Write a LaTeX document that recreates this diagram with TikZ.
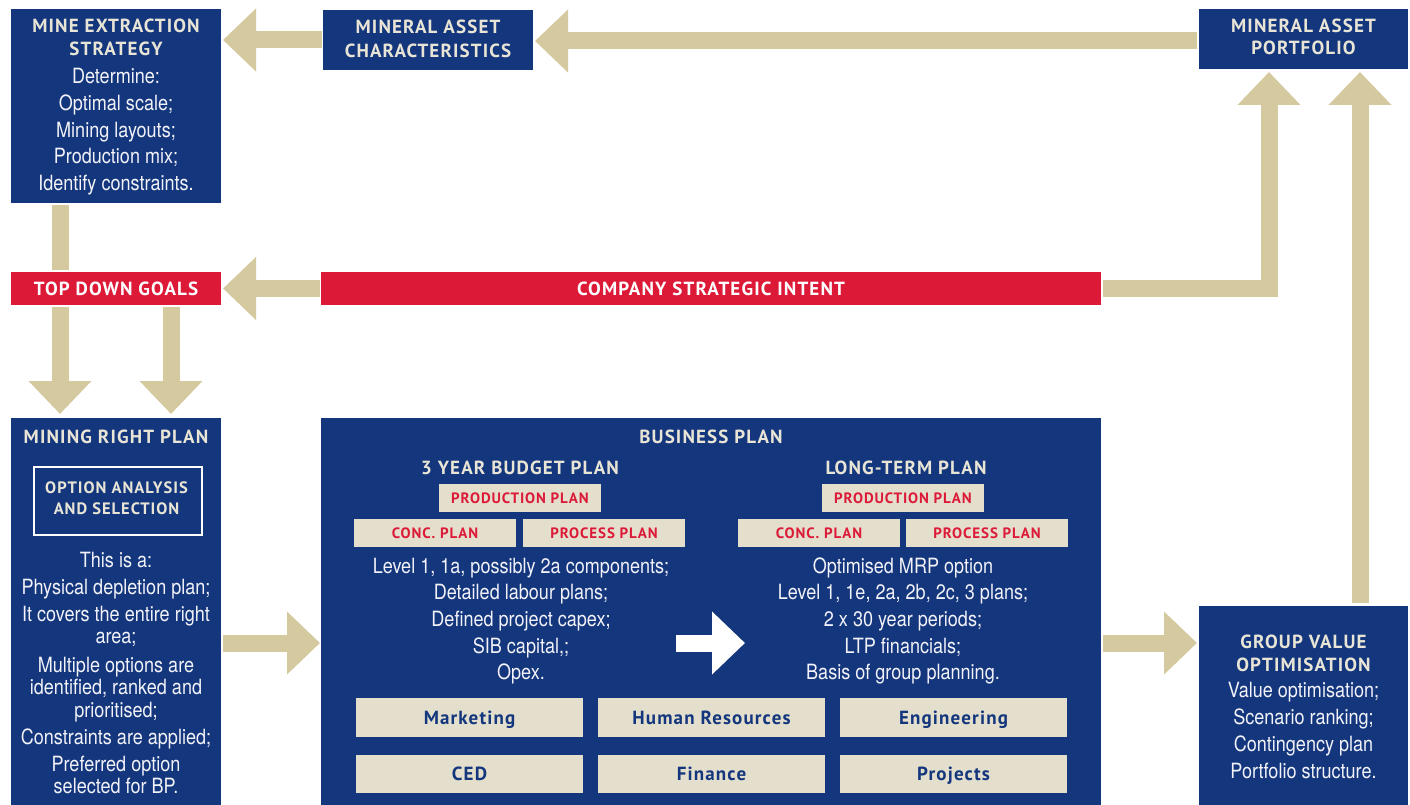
\documentclass[tikz,border=0pt]{standalone}
\usepackage{fontspec}
\setmainfont{TeX Gyre Heros}
\newfontfamily\headfont[LetterSpace=6]{PT Sans}
\newfontfamily\bodyfont[FakeStretch=0.86]{TeX Gyre Heros}
\usetikzlibrary{arrows.meta,calc}

\definecolor{navy}{RGB}{19,54,125}
\definecolor{sand}{RGB}{213,201,160}
\definecolor{alert}{RGB}{220,26,56}
\definecolor{paper}{RGB}{228,223,205}
\definecolor{headtxt}{RGB}{233,229,214}
\definecolor{bodytxt}{RGB}{242,242,248}

\begin{document}
\begin{tikzpicture}[x=1pt,y=-1pt,
  panel/.style={fill=navy,draw=none,inner sep=0pt,outer sep=0pt,anchor=north west},
  redbar/.style={fill=alert,draw=none,inner sep=0pt,outer sep=0pt,anchor=north west,
    font=\headfont\bfseries\fontsize{19}{23}\selectfont,text=white,
    text height=13.3pt,text depth=0pt},
  chip/.style={fill=paper,draw=none,inner sep=0pt,outer sep=0pt,anchor=north west,
    text height=10.8pt,text depth=0pt,
    font=\headfont\bfseries\fontsize{15}{18}\selectfont,text=alert},
  dept/.style={fill=paper,draw=none,inner sep=0pt,outer sep=0pt,anchor=north west,
    minimum width=227pt,minimum height=38pt,
    text height=13.3pt,text depth=0pt,
    font=\headfont\bfseries\fontsize{19}{23}\selectfont,text=navy},
  head/.style={font=\headfont\bfseries\fontsize{19}{23}\selectfont,text=headtxt,anchor=base,inner sep=0pt},
  subhead/.style={font=\headfont\bfseries\fontsize{16.5}{20}\selectfont,text=headtxt,anchor=base,inner sep=0pt},
  body/.style={font=\bodyfont\fontsize{21}{26}\selectfont,text=bodytxt,anchor=base,inner sep=0pt},
  fatline/.style={draw=sand,line width=17pt},
  fat/.style={fatline,-{Triangle[length=33pt,width=61pt]}},
]
\useasboundingbox (0,0) rectangle (1410,805);

% ---------- boxes ----------
\node[panel,minimum width=210pt,minimum height=194pt] (mine) at (11,9) {};
\node[panel,minimum width=210pt,minimum height=60pt] (mac) at (323,10) {};
\node[panel,minimum width=209pt,minimum height=60pt] (port) at (1199,9) {};
\node[redbar,minimum width=210pt,minimum height=33pt] (tdg) at (11,272) {TOP DOWN GOALS};
\node[redbar,minimum width=780pt,minimum height=33pt] (csi) at (321,272) {COMPANY STRATEGIC INTENT};
\node[panel,minimum width=210pt,minimum height=387pt] (mrp) at (11,418) {};
\node[panel,minimum width=780pt,minimum height=387pt] (bp) at (321,418) {};
\node[panel,minimum width=209pt,minimum height=199pt] (gvo) at (1199,606) {};

% ---------- mine extraction strategy ----------
\node[head] at (116,33) {MINE EXTRACTION};
\node[head] at (116,56) {STRATEGY};
\foreach \yy/\lbl in {84/Determine:,111/Optimal scale;,138/Mining layouts;,164/Production mix;,191/Identify constraints.}
  \node[body] at (116,\yy) {\lbl};

% ---------- mineral asset characteristics / portfolio ----------
\node[head] at (428,34) {MINERAL ASSET};
\node[head] at (428,58) {CHARACTERISTICS};
\node[head] at (1303.5,33) {MINERAL ASSET};
\node[head] at (1303.5,55) {PORTFOLIO};

% ---------- mining right plan ----------
\node[head] at (116,443) {MINING RIGHT PLAN};
\node[draw=white,line width=2pt,inner sep=0pt,anchor=north west,
  minimum width=168pt,minimum height=68pt] (opt) at (33,466) {};
\node[subhead] at (116.5,493) {OPTION ANALYSIS};
\node[subhead] at (116.5,514) {AND SELECTION};
\foreach \yy/\lbl in {567/This is a:,594/Physical depletion plan;,621/It covers the entire right,643/area;,
  672/Multiple options are,694/{identified, ranked and},717/prioritised;,744/Constraints are applied;,
  771/Preferred option,793/selected for BP.}
  \node[body] at (116,\yy) {\lbl};

% ---------- business plan ----------
\node[head] at (711,443) {BUSINESS PLAN};
\node[head] at (520,474) {3 YEAR BUDGET PLAN};
\node[head] at (906,474) {LONG-TERM PLAN};

\node[chip,minimum width=162pt,minimum height=28pt] (pp1) at (439,484) {PRODUCTION PLAN};
\node[chip,minimum width=162pt,minimum height=28pt] (cp1) at (354,519) {CONC. PLAN};
\node[chip,minimum width=162pt,minimum height=28pt] (pr1) at (523,519) {PROCESS PLAN};
\node[chip,minimum width=162pt,minimum height=28pt] (pp2) at (822,484) {PRODUCTION PLAN};
\node[chip,minimum width=162pt,minimum height=28pt] (cp2) at (738,519) {CONC. PLAN};
\node[chip,minimum width=162pt,minimum height=28pt] (pr2) at (906,519) {PROCESS PLAN};

\foreach \yy/\lbl in {573/{Level 1, 1a, possibly 2a components;},599/Detailed labour plans;,
  626/Defined project capex;,653/{SIB capital,;},679/Opex.}
  \node[body] at (521,\yy) {\lbl};
\foreach \yy/\lbl in {573/Optimised MRP option,599/{Level 1, 1e, 2a, 2b, 2c, 3 plans;},
  626/2 x 30 year periods;,653/LTP financials;,679/Basis of group planning.}
  \node[body] at (903,\yy) {\lbl};

\node[dept,minimum height=39pt] (mkt) at (356,698) {Marketing};
\node[dept,minimum height=39pt] (hr)  at (598,698) {Human Resources};
\node[dept,minimum height=39pt] (eng) at (840,698) {Engineering};
\node[dept] (ced) at (356,755) {CED};
\node[dept] (fin) at (598,755) {Finance};
\node[dept] (prj) at (840,755) {Projects};

% ---------- group value optimisation ----------
\node[head] at (1303.5,648) {GROUP VALUE};
\node[head] at (1303.5,671) {OPTIMISATION};
\foreach \yy/\lbl in {697/Value optimisation;,724/Scenario ranking;,751/Contingency plan,778/Portfolio structure.}
  \node[body] at (1303.5,\yy) {\lbl};

% ---------- connectors ----------
\coordinate (lvl) at (0,643);
\coordinate (wa) at (676,643);
\coordinate (wb) at (745,643);

\draw[fat] ($(mac.west)+(-1,0)$) -- ($(mac.west -| mine.east)+(2,0)$);
\draw[fat] ($(port.west |- mac.west)+(-2,1)$) -- ($(mac.east)+(2,1)$);
\draw[fatline] ($(mine.south west)+(49,2)$) -- ($(tdg.north west)+(49,-2)$);
\draw[fat] ($(csi.west)+(-1,0)$) -- ($(tdg.east)+(2,0)$);
\draw[fat] ($(csi.east)+(2,0)$) -| ($(port.south west)+(70,3)$);
\draw[fat] ($(gvo.north west)+(161,-3)$) -- ($(port.south west)+(161,3)$);
\draw[fat] ($(tdg.south west)+(49,2)$) -- ($(mrp.north west)+(49,-4)$);
\draw[fat] ($(tdg.south west)+(160,2)$) -- ($(mrp.north west)+(160,-4)$);
\draw[fat] ($(mrp.east |- lvl)+(2,0)$) -- ($(bp.west |- lvl)+(-1,0)$);
\draw[fat] ($(bp.east |- lvl)+(2,0)$) -- ($(gvo.west |- lvl)+(-2,0)$);
\draw[fat,draw=white] (wa) -- (wb);
\end{tikzpicture}
\end{document}
